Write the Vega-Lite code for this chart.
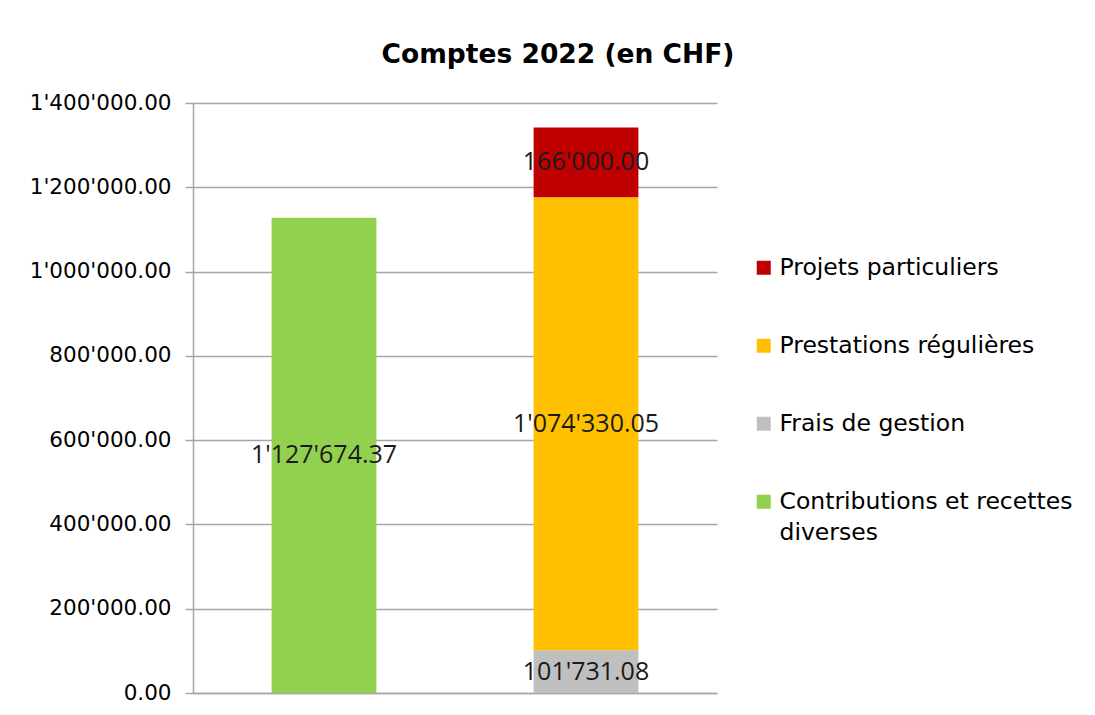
{
  "$schema": "https://vega.github.io/schema/vega-lite/v6.json",
  "autosize": {"type": "none"},
  "padding": {"left": 193, "top": 103, "right": 378, "bottom": 22},
  "width": 524,
  "height": 590,
  "background": "white",
  "title": {
    "text": "Comptes 2022 (en CHF)",
    "font": "DejaVu Sans",
    "fontSize": 26.5,
    "fontWeight": "bold",
    "color": "#000000",
    "anchor": "middle",
    "frame": "group",
    "dx": 103,
    "offset": 24
  },
  "data": {
    "values": [
      {"colonne": "Recettes", "categorie": "Contributions et recettes diverses", "ordre": 0, "valeur": 1127674.37, "etiquette": "1'127'674.37"},
      {"colonne": "Dépenses", "categorie": "Frais de gestion", "ordre": 1, "valeur": 101731.08, "etiquette": "101'731.08"},
      {"colonne": "Dépenses", "categorie": "Prestations régulières", "ordre": 2, "valeur": 1074330.05, "etiquette": "1'074'330.05"},
      {"colonne": "Dépenses", "categorie": "Projets particuliers", "ordre": 3, "valeur": 166000.00, "etiquette": "166'000.00"}
    ]
  },
  "encoding": {
    "x": {
      "field": "colonne",
      "type": "nominal",
      "sort": ["Recettes", "Dépenses"],
      "scale": {"paddingInner": 0.6, "paddingOuter": 0.3},
      "axis": {"labels": false, "ticks": false, "title": null, "domain": true, "domainColor": "#A6A6A6", "domainWidth": 1.5}
    },
    "y": {
      "field": "valeur",
      "type": "quantitative",
      "stack": "zero",
      "scale": {"domain": [0, 1400000], "nice": false},
      "axis": {
        "title": null,
        "values": [0, 200000, 400000, 600000, 800000, 1000000, 1200000, 1400000],
        "labelExpr": "replace(format(datum.value, ',.2f'), regexp(',', 'g'), \"'\")",
        "labelFont": "DejaVu Sans",
        "labelFontSize": 21.5,
        "labelColor": "#000000",
        "labelPadding": 14,
        "tickSize": 8,
        "tickColor": "#A6A6A6",
        "tickWidth": 1.5,
        "domainColor": "#A6A6A6",
        "domainWidth": 1.5,
        "grid": true,
        "gridColor": "#A6A6A6",
        "gridWidth": 1.5
      }
    },
    "order": {"field": "ordre", "type": "quantitative"}
  },
  "layer": [
    {
      "mark": {"type": "bar"},
      "encoding": {
        "color": {
          "field": "categorie",
          "type": "nominal",
          "scale": {
            "domain": ["Projets particuliers", "Prestations régulières", "Frais de gestion", "Contributions et recettes diverses"],
            "range": ["#C00000", "#FFC000", "#BFBFBF", "#92D050"]
          },
          "legend": {
            "title": null,
            "orient": "none",
            "legendX": 559,
            "legendY": 153,
            "symbolType": "square",
            "symbolSize": 196,
            "symbolStrokeWidth": 0,
            "labelFont": "DejaVu Sans",
            "labelFontSize": 23.5,
            "labelColor": "#000000",
            "labelLimit": 400,
            "labelOffset": 4,
            "rowPadding": 53,
            "labelExpr": "datum.label == 'Contributions et recettes diverses' ? ['Contributions et recettes', 'diverses'] : datum.label"
          }
        }
      }
    },
    {
      "mark": {"type": "text", "font": "Open Sans", "fontSize": 25, "color": "#1a1a1a", "baseline": "middle", "align": "center"},
      "encoding": {
        "y": {"field": "valeur", "type": "quantitative", "stack": "zero", "bandPosition": 0.5},
        "text": {"field": "etiquette", "type": "nominal"}
      }
    }
  ],
  "config": {
    "view": {"stroke": null},
    "style": {"guide-label": {"lineHeight": 31}}
  }
}
